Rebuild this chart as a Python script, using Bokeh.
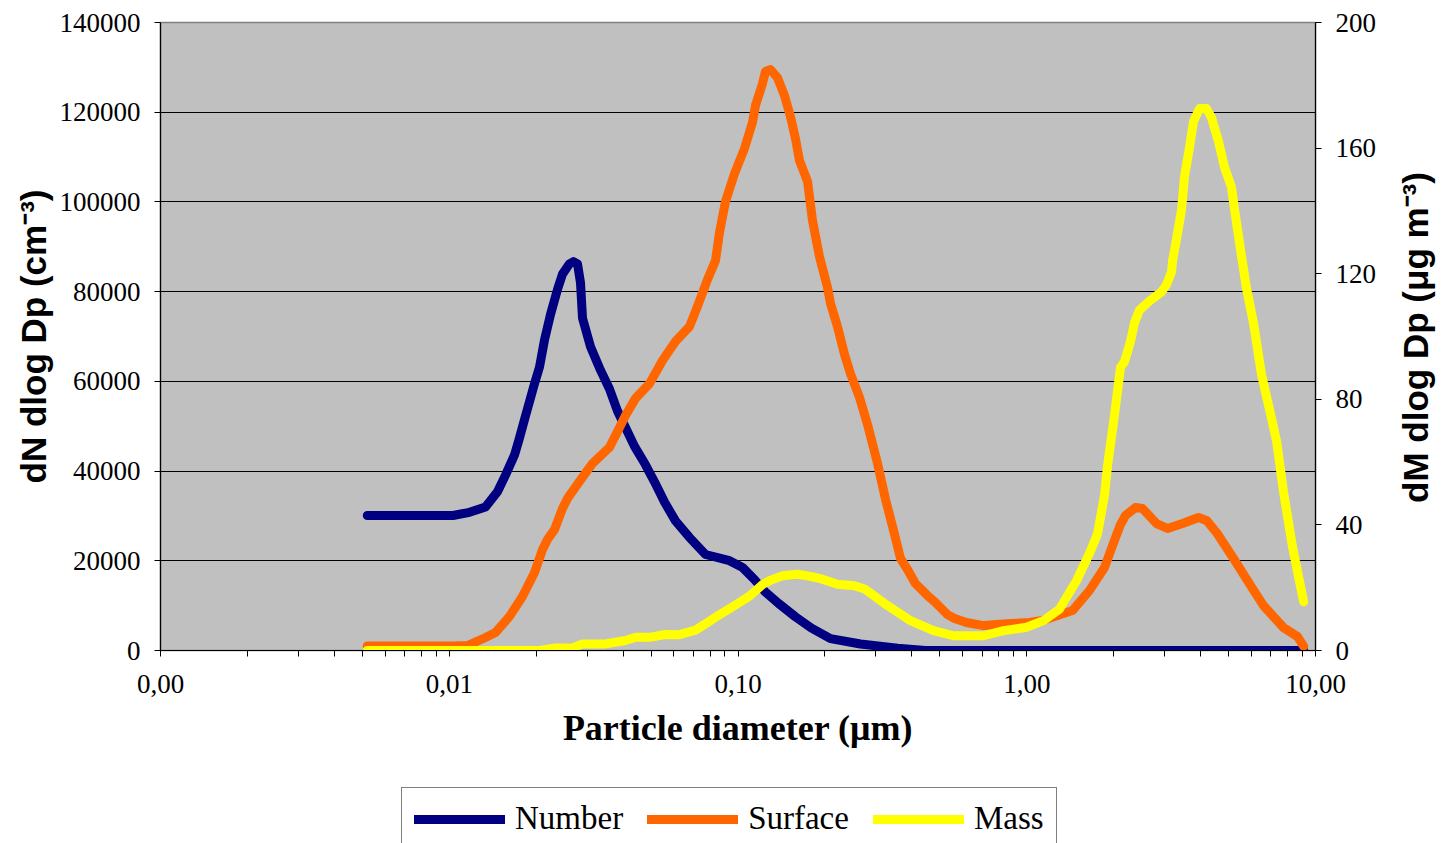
from bokeh.embed import file_html
from bokeh.layouts import column, row
from bokeh.models import (FixedTicker, Label, Legend, LegendItem, LinearAxis,
                          NumeralTickFormatter, Range1d)
from bokeh.plotting import figure
from bokeh.resources import INLINE

# Particle diameter (um) and size distributions
number_d = [0.0052, 0.0103, 0.01175, 0.01335, 0.01469, 0.01566, 0.01683, 0.01751,
            0.01837, 0.01974, 0.02054, 0.02137, 0.02242, 0.02371, 0.02467, 0.02609,
            0.02693, 0.02781, 0.02848, 0.02894, 0.03085, 0.03340, 0.03589, 0.03825,
            0.04077, 0.04382, 0.04782, 0.05138, 0.05564, 0.06074, 0.06792, 0.07719,
            0.09271, 0.1037, 0.1141, 0.1245, 0.1381, 0.1582, 0.1797, 0.2091,
            0.2656, 0.3568, 0.4460, 9.1]
number_n = [30100, 30100, 30800, 32000, 35400, 39100, 43600, 47400,
            52300, 59500, 63200, 69200, 74900, 80500, 83900, 86200,
            86700, 86200, 82000, 74100, 67700, 62500, 58300, 53400,
            49700, 45500, 41400, 37600, 33100, 28900, 25200, 21400,
            20100, 18500, 15800, 13000, 10500, 7500, 5000, 2650,
            1450, 500, 0, 0]

surface_d = [0.0052, 0.01026, 0.01157, 0.01335, 0.01446, 0.01617, 0.01793, 0.01974,
             0.02104, 0.02189, 0.02315, 0.02467, 0.02568, 0.02826, 0.03134, 0.03589,
             0.03825, 0.04077, 0.04417, 0.04938, 0.05476, 0.06074, 0.06792, 0.07239,
             0.07843, 0.08359, 0.08630, 0.09052, 0.09725, 0.1053, 0.1122, 0.1150,
             0.1216, 0.1245, 0.1296, 0.1370, 0.1449, 0.1520, 0.1582, 0.1633,
             0.1741, 0.1811, 0.1915, 0.2042, 0.2091, 0.2211, 0.2338, 0.2453,
             0.2635, 0.2809, 0.3042, 0.3242, 0.3374, 0.3512, 0.3654, 0.3864,
             0.4118, 0.4532, 0.4792, 0.5316, 0.5621, 0.6184, 0.7083, 0.8786,
             1.022, 1.134, 1.440, 1.650, 1.859, 1.982, 2.112, 2.198,
             2.380, 2.517, 2.814, 3.073, 3.464, 3.935, 4.194, 4.542,
             5.202, 5.954, 6.606, 7.749, 8.663, 9.1]
surface_s = [1000, 1000, 1100, 2900, 4000, 7600, 12050, 17400,
             22500, 24750, 26950, 31650, 33900, 37700, 41700, 45300,
             48800, 52400, 56200, 59500, 64650, 68900, 72200, 76700,
             82700, 86950, 93200, 100100, 106300, 111900, 117700, 121500,
             126400, 129100, 129500, 127700, 123700, 119000, 114100, 109200,
             104600, 95900, 87800, 80900, 77350, 72200, 66000, 61700,
             56400, 50400, 41700, 33700, 29400, 25000, 20500, 18050,
             14900, 12250, 10900, 8000, 7150, 6250, 5550, 6000,
             6250, 6700, 8900, 13400, 18500, 23400, 28100, 30100,
             31900, 31650, 28300, 27200, 28300, 29650, 29000, 26300,
             20500, 14500, 10000, 5100, 3100, 900]

mass_d = [0.0052, 0.02054, 0.02334, 0.02672, 0.02894, 0.03476, 0.04077, 0.04417,
          0.04938, 0.05609, 0.06221, 0.07124, 0.07719, 0.08561, 0.09803, 0.1096,
          0.1216, 0.1306, 0.1426, 0.1607, 0.1783, 0.1946, 0.2211, 0.2532,
          0.2742, 0.3295, 0.3958, 0.4754, 0.5576, 0.7083, 0.8309, 0.9980,
          1.143, 1.299, 1.487, 1.650, 1.758, 1.859, 1.904, 2.014,
          2.112, 2.181, 2.287, 2.361, 2.457, 2.662, 2.929, 3.048,
          3.173, 3.198, 3.302, 3.436, 3.519, 3.662, 3.781, 3.966,
          4.194, 4.364, 4.615, 4.841, 5.119, 5.243, 5.500, 5.769,
          6.100, 6.502, 7.042, 7.328, 7.749, 8.325, 9.1]
mass_m = [0, 0, 0.8, 0.8, 2.1, 2.1, 3.2, 4.2,
          4.2, 5.1, 5.0, 6.5, 8.5, 11.2, 14.5, 17.3,
          21.0, 22.5, 23.8, 24.3, 23.6, 22.8, 21.1, 20.6,
          19.6, 14.3, 9.5, 6.3, 4.7, 4.7, 6.3, 7.4,
          9.5, 13.2, 22.2, 31.0, 37.1, 49.4, 58.7, 75.1,
          90.2, 92.0, 98.4, 104.3, 108.4, 111.3, 114.2, 116.5,
          120.6, 124.1, 131.1, 140.4, 151.0, 160.3, 168.5, 172.6,
          172.6, 169.7, 162.1, 153.9, 147.5, 140.5, 127.6, 115.3,
          104.3, 87.9, 73.9, 66.8, 50.5, 33.0, 15.5]

series_names = ["Number", "Surface", "Mass"]
series_colors = ["#000080", "#FF6600", "#FFFF00"]

# Axes ticks and labels
x_ticks = [0.001, 0.01, 0.1, 1, 10]
x_tick_labels = ["0,00", "0,01", "0,10", "1,00", "10,00"]
left_ticks = [0, 20000, 40000, 60000, 80000, 100000, 120000, 140000]
right_ticks = [0, 40, 80, 120, 160, 200]

x_title = "Particle diameter (\u03bcm)"
left_title = "dN dlog Dp (cm\u207b\u00b3)"
right_title = "dM dlog Dp (\u03bcg m\u207b\u00b3)"

TICK_FONT = "Liberation Serif"
TICK_SIZE = "27px"
TITLE_SIZE = "35px"

MAIN_W, MAIN_H, SIDE_W, FULL_W, LEG_H = 1390, 760, 51, 1441, 83

p = figure(width=MAIN_W, height=MAIN_H, x_axis_type="log",
           x_range=Range1d(x_ticks[0], x_ticks[-1]),
           y_range=Range1d(left_ticks[0], left_ticks[-1]),
           output_backend="svg", toolbar_location=None,
           min_border_left=160, min_border_right=75,
           min_border_top=22, min_border_bottom=110)
p.extra_y_ranges = {"mass": Range1d(right_ticks[0], right_ticks[-1])}

p.background_fill_color = "#C0C0C0"
p.border_fill_color = "white"
p.outline_line_color = "#808080"
p.outline_line_width = 1.5

p.xgrid.visible = False
p.ygrid.grid_line_color = "black"
p.ygrid.grid_line_width = 1
p.ygrid.ticker = FixedTicker(ticks=left_ticks)

# x axis (log) with minor ticks at 2..9 of every decade
minor = [m * 10.0 ** k for k in range(-3, 1) for m in range(2, 10)]
xa = p.xaxis[0]
xa.ticker = FixedTicker(ticks=x_ticks, minor_ticks=minor)
xa.major_label_overrides = {t: s for t, s in zip(x_ticks, x_tick_labels)}
xa.axis_label = x_title

ya = p.yaxis[0]
ya.ticker = FixedTicker(ticks=left_ticks)
ya.formatter = NumeralTickFormatter(format="0")
ya.axis_label = left_title

ra = LinearAxis(y_range_name="mass", ticker=FixedTicker(ticks=right_ticks))
p.add_layout(ra, "right")

for ax in (xa, ya, ra):
    ax.axis_line_color = "black"
    ax.axis_line_width = 1.2
    ax.major_tick_line_color = "black"
    ax.minor_tick_line_color = "black"
    ax.major_tick_in = 0
    ax.major_tick_out = 6
    ax.minor_tick_in = 0
    ax.major_label_text_font = TICK_FONT
    ax.major_label_text_font_size = TICK_SIZE
    ax.major_label_text_color = "black"
    ax.axis_label_text_color = "black"
    ax.axis_label_text_font_style = "bold"
    ax.axis_label_text_font_size = TITLE_SIZE

xa.minor_tick_out = 6
ya.minor_tick_out = 0
ra.minor_tick_out = 0

xa.major_label_standoff = 18
xa.axis_label_text_font = "Liberation Serif"
xa.axis_label_text_font_size = "36px"
xa.axis_label_standoff = 12

ya.major_label_standoff = 14
ya.axis_label_text_font = "Liberation Sans"
ya.axis_label_standoff = 4

ra.major_label_standoff = 14

line_kw = dict(line_width=9, line_cap="round", line_join="round")
p.line(number_d, number_n, line_color=series_colors[0], **line_kw)
p.line(surface_d, surface_s, line_color=series_colors[1], **line_kw)
p.line(mass_d, mass_m, line_color=series_colors[2], y_range_name="mass", **line_kw)


def blank(width, height):
    f = figure(width=width, height=height, x_range=Range1d(0, 1), y_range=Range1d(0, 1),
               output_backend="svg", toolbar_location=None,
               min_border=0, min_border_left=0, min_border_right=0,
               min_border_top=0, min_border_bottom=0)
    f.axis.visible = False
    f.grid.visible = False
    f.outline_line_color = None
    f.background_fill_color = "white"
    f.border_fill_color = "white"
    return f


# strip to the right of the chart carrying the secondary axis title
side = blank(SIDE_W, MAIN_H)
side.add_layout(Label(x=25, y=313, x_units="screen", y_units="screen",
                      text=right_title, angle=90, angle_units="deg",
                      text_align="center", text_baseline="middle",
                      text_font="Liberation Sans", text_font_style="bold",
                      text_font_size=TITLE_SIZE, text_color="black"))

# legend strip under the chart; the proxy lines only supply the legend swatches
leg = blank(FULL_W, LEG_H)
nan = float("nan")
proxies = [leg.line([nan], [nan], line_color=c, line_width=9, line_cap="round")
           for c in series_colors]
legend = Legend(
    items=[LegendItem(label=n, renderers=[r]) for n, r in zip(series_names, proxies)],
    location=(401, -7), orientation="horizontal",
    label_text_font="Liberation Serif", label_text_font_size="33px",
    label_text_color="black",
    border_line_color="black", border_line_width=1,
    background_fill_color="white", background_fill_alpha=1,
    padding=12, spacing=24, margin=0,
    glyph_width=91, glyph_height=36, label_height=36, label_standoff=10,
)
leg.add_layout(legend, "center")

page = column(row(p, side), leg)
open("out.html", "w").write(file_html(page, INLINE))
